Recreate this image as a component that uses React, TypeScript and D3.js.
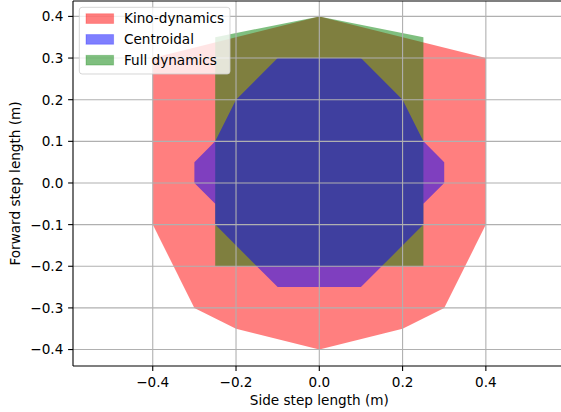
import React from "react";
import * as d3 from "d3";

type Pt = [number, number];

const kinoDynamics: Pt[] = [
  [-0.4, 0.3], [0.0, 0.4], [0.4, 0.3], [0.4, -0.1], [0.3, -0.3],
  [0.2, -0.35], [0.0, -0.4], [-0.2, -0.35], [-0.3, -0.3], [-0.4, -0.1],
];
const fullDynamics: Pt[] = [
  [-0.25, 0.35], [0.0, 0.4], [0.25, 0.35], [0.25, -0.2], [-0.25, -0.2],
];
const centroidal: Pt[] = [
  [-0.1, 0.3], [0.1, 0.3], [0.2, 0.2], [0.25, 0.1], [0.3, 0.05], [0.3, 0.0],
  [0.25, -0.05], [0.25, -0.1], [0.1, -0.25], [-0.1, -0.25], [-0.25, -0.1],
  [-0.25, -0.05], [-0.3, 0.0], [-0.3, 0.05], [-0.25, 0.1], [-0.2, 0.2],
];

const seriesNames = ["Kino-dynamics", "Centroidal", "Full dynamics"];
const seriesColors = ["#ff0000", "#0000ff", "#008000"];
const xTicks = [-0.4, -0.2, 0.0, 0.2, 0.4];
const yTicks = [-0.4, -0.3, -0.2, -0.1, 0.0, 0.1, 0.2, 0.3, 0.4];
const xLim: [number, number] = [-0.5915, 0.5915];
const yLim: [number, number] = [-0.4395, 0.437];

const W = 561;
const H = 412;
const left = 73;
const right = 565.6;
const top = 1;
const bottom = 366;
const font = "'DejaVu Sans', sans-serif";
const fs = 13.6;

const fmt = (v: number) => {
  const s = v.toFixed(1);
  return v < 0 ? "\u2212" + s.slice(1) : s === "-0.0" ? "0.0" : s;
};

export default function App() {
  const x = d3.scaleLinear().domain(xLim).range([left, right]);
  const y = d3.scaleLinear().domain(yLim).range([bottom, top]);
  const line = d3
    .line<Pt>()
    .x((d) => x(d[0]))
    .y((d) => y(d[1]))
    .curve(d3.curveLinearClosed);

  const polys: { data: Pt[]; color: string }[] = [
    { data: kinoDynamics, color: seriesColors[0] },
    { data: fullDynamics, color: seriesColors[2] },
    { data: centroidal, color: seriesColors[1] },
  ];

  const legendRows = [18.6, 39.4, 60.2];

  return (
    <svg
      width={W}
      height={H}
      style={{ position: "absolute", left: 0, top: 0, display: "block", background: "#fff" }}
      fontFamily={font}
    >
      <defs>
        <clipPath id="ax">
          <rect x={left} y={top} width={right - left} height={bottom - top} />
        </clipPath>
      </defs>
      <rect x={0} y={0} width={W} height={H} fill="#fff" />
      <g clipPath="url(#ax)">
        {polys.map((p, i) => (
          <path key={i} d={line(p.data) || ""} fill={p.color} fillOpacity={0.5} stroke="none" />
        ))}
        {xTicks.map((t) => (
          <line key={"gx" + t} x1={x(t)} x2={x(t)} y1={top} y2={bottom} stroke="#b0b0b0" strokeWidth={1.1} />
        ))}
        {yTicks.map((t) => (
          <line key={"gy" + t} x1={left} x2={right} y1={y(t)} y2={y(t)} stroke="#b0b0b0" strokeWidth={1.1} />
        ))}
      </g>
      {/* spines */}
      <g stroke="#000" strokeWidth={1.1} fill="none">
        <line x1={left} x2={left} y1={top} y2={bottom} />
        <line x1={left} x2={right} y1={bottom} y2={bottom} />
        <line x1={left} x2={right} y1={top} y2={top} />
        <line x1={right} x2={right} y1={top} y2={bottom} />
      </g>
      {/* x ticks */}
      {xTicks.map((t) => (
        <g key={"xt" + t}>
          <line x1={x(t)} x2={x(t)} y1={bottom} y2={bottom + 4.9} stroke="#000" strokeWidth={1.1} />
          <text x={x(t)} y={386.5} textAnchor="middle" fontSize={fs} fill="#000">
            {fmt(t)}
          </text>
        </g>
      ))}
      {/* y ticks */}
      {yTicks.map((t) => (
        <g key={"yt" + t}>
          <line x1={left - 4.9} x2={left} y1={y(t)} y2={y(t)} stroke="#000" strokeWidth={1.1} />
          <text x={63.3} y={y(t) + 4.9} textAnchor="end" fontSize={fs} fill="#000">
            {fmt(t)}
          </text>
        </g>
      ))}
      <text x={(left + right) / 2} y={405} textAnchor="middle" fontSize={fs} fill="#000">
        Side step length (m)
      </text>
      <text
        transform={`translate(20,${(top + bottom) / 2}) rotate(-90)`}
        textAnchor="middle"
        fontSize={fs}
        fill="#000"
      >
        Forward step length (m)
      </text>
      {/* legend */}
      <rect
        x={79.3}
        y={7.3}
        width={150.7}
        height={66.7}
        rx={2.8}
        fill="#fff"
        fillOpacity={0.8}
        stroke="#cccccc"
        strokeOpacity={0.8}
        strokeWidth={1}
      />
      {seriesNames.map((name, i) => (
        <g key={name}>
          <rect
            x={86}
            y={legendRows[i] - 4.85}
            width={27.6}
            height={9.7}
            fill={seriesColors[i]}
            fillOpacity={0.5}
            stroke={seriesColors[i]}
            strokeOpacity={0.25}
            strokeWidth={1}
          />
          <text x={124} y={legendRows[i] + 4.7} fontSize={fs} fill="#000">
            {name}
          </text>
        </g>
      ))}
    </svg>
  );
}
